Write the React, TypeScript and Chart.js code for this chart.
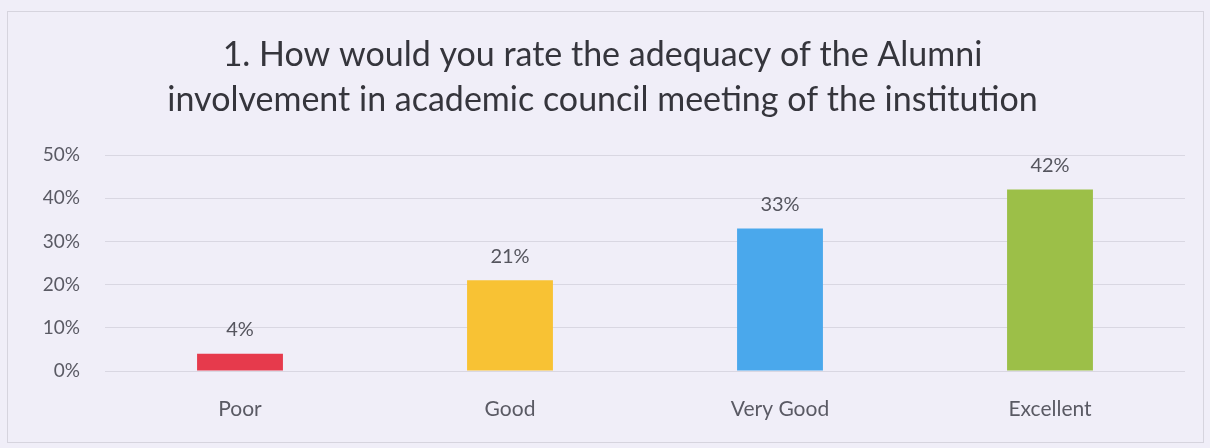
import React, { useEffect, useRef } from "react";
import { Chart, registerables } from "chart.js";

Chart.register(...registerables);

const categories = ["Poor", "Good", "Very Good", "Excellent"];
const values = [4, 21, 33, 42];
const barColors = ["#e63a4c", "#f8c234", "#4aa8ec", "#9cbf48"];
const yTicks = [0, 10, 20, 30, 40, 50];
const titleLines = [
  "1. How would you rate the adequacy of the Alumni",
  "involvement in academic council meeting of the institution",
];

const valueLabels = {
  id: "valueLabels",
  afterDatasetsDraw(chart: any) {
    const ctx = chart.ctx;
    const meta = chart.getDatasetMeta(0);
    ctx.save();
    ctx.font = "20px Lato";
    ctx.fillStyle = "#55555e";
    ctx.textAlign = "center";
    ctx.textBaseline = "middle";
    meta.data.forEach((bar: any, i: number) => {
      ctx.fillText(values[i] + "%", bar.x, bar.y - 24);
    });
    ctx.restore();
  },
};

export default function App() {
  const ref = useRef<HTMLCanvasElement>(null);
  useEffect(() => {
    const chart = new Chart(ref.current!, {
      type: "bar",
      data: {
        labels: categories,
        datasets: [
          {
            data: values,
            backgroundColor: barColors,
            barPercentage: 1,
            categoryPercentage: 0.318,
          },
        ],
      },
      options: {
        animation: false,
        responsive: false,
        layout: { padding: { top: 0, left: 20, right: 25, bottom: 0 } },
        plugins: {
          legend: { display: false },
          tooltip: { enabled: false },
          title: {
            display: true,
            text: titleLines,
            color: "#35353c",
            font: { family: "Lato", size: 34, weight: "normal", lineHeight: 1.324 },
            padding: { top: 33, bottom: 32 },
          },
        },
        scales: {
          x: {
            grid: { display: false, drawTicks: false },
            border: { display: false },
            ticks: {
              color: "#5a5a64",
              font: { family: "Lato", size: 21 },
              padding: 26,
            },
            afterFit(axis: any) {
              axis.height = 77;
            },
          },
          y: {
            min: 0,
            max: 50,
            afterBuildTicks(axis: any) {
              axis.ticks = yTicks.map((v) => ({ value: v }));
            },
            grid: { color: "#d9d7e2", drawTicks: false },
            border: { display: false },
            ticks: {
              color: "#5a5a64",
              font: { family: "Lato", size: 19 },
              padding: 25,
              callback: (v: any) => v + "%",
            },
            afterFit(axis: any) {
              axis.width = 85;
            },
          },
        },
      },
      plugins: [valueLabels],
    });
    return () => chart.destroy();
  }, []);
  return (
    <div
      style={{
        position: "fixed",
        left: 0,
        top: 0,
        width: 1210,
        height: 448,
        background: "#f0eef8",
      }}
    >
      <div
        style={{
          position: "absolute",
          left: 7,
          top: 11,
          width: 1195,
          height: 430,
          border: "1px solid #d6d4de",
        }}
      />
      <canvas ref={ref} width={1210} height={448} style={{ position: "absolute", left: 0, top: 0 }} />
    </div>
  );
}
